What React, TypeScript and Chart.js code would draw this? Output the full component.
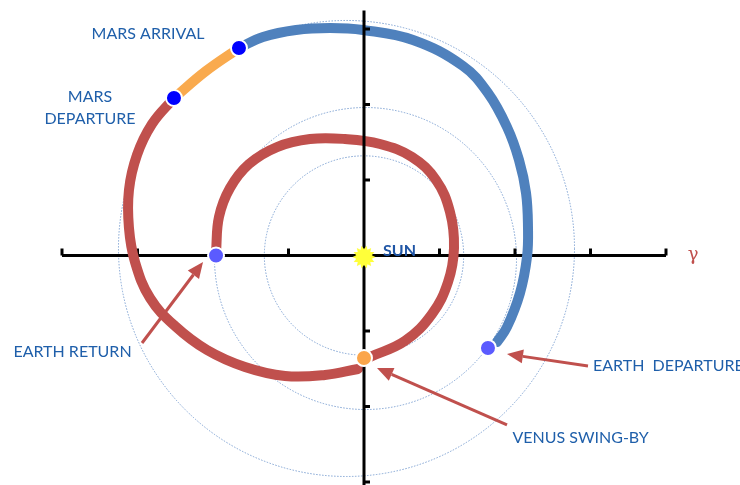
import React, { useEffect, useRef } from "react";
import { Chart, registerables } from "chart.js";

Chart.register(...registerables);

// ---- data (chart units, 1 unit = one axis tick) ----
const blueTransfer = [
  [1.762, -1.146], [1.894, -0.947], [2.066, -0.497], [2.159, -0.02], [2.172, 0.377],
  [2.146, 0.828], [2.053, 1.265], [1.894, 1.702], [1.642, 2.152], [1.311, 2.51],
  [0.649, 2.854], [-0.013, 2.987], [-0.45, 3.013], [-0.901, 2.987], [-1.338, 2.894],
  [-1.656, 2.748],
];
const orangeStay = [
  [-1.656, 2.748], [-2.093, 2.444], [-2.517, 2.086],
];
const redOuter = [
  [-2.517, 2.086], [-2.808, 1.742], [-3.007, 1.331], [-3.113, 0.868], [-3.113, 0.364],
  [-3.033, -0.086], [-2.834, -0.563], [-2.503, -0.934], [-2.079, -1.252], [-1.576, -1.477],
  [-1.046, -1.596], [-0.517, -1.583], [-0.079, -1.503],
];
const redInner = [
  [0.079, -1.344], [0.543, -1.132], [0.901, -0.775], [1.113, -0.351], [1.192, 0.099],
  [1.139, 0.576], [0.954, 1.0], [0.636, 1.305], [0.212, 1.477], [-0.252, 1.543],
  [-0.715, 1.543], [-1.152, 1.437], [-1.523, 1.212], [-1.775, 0.894], [-1.921, 0.51],
  [-1.96, 0.046],
];
const marsPoints = [[-1.656, 2.748], [-2.517, 2.086]];
const earthPoints = [[1.642, -1.225], [-1.96, 0.0]];
const venusPoints = [[0.0, -1.358]];
const sunPoint = [[0.0, -0.02]];

// orbit reference circles: [centerX, centerY], radius
const orbitCenters = [[0.0, 0.0], [0.02, -0.04], [-0.232, 0.093]];
const orbitRadii = [1.32, 2.0, 3.02];

// axes
const axisXRange = [-4, 4];
const axisYRange = [3.245, -3.2];
const xTicks = [-4, -3, -2, -1, 0, 1, 2, 3, 4];
const yTicks = [3, 2, 1, 0, -1, -2, -3];

// arrows: [fromX, fromY, toX, toY]
const arrows = [
  [-2.94, -1.159, -2.132, -0.086],
  [2.967, -1.464, 1.894, -1.305],
  [1.894, -2.245, 0.172, -1.49],
];

// labels
const labelTexts = ["MARS ARRIVAL", "MARS", "DEPARTURE", "EARTH RETURN", "EARTH  DEPARTURE", "VENUS SWING-BY"];
const labelAnchors = [[-2.861, 2.934], [-3.629, 2.099], [-3.629, 1.808], [-3.861, -1.278], [3.033, -1.464], [1.967, -2.417]];
const labelAligns = ["center", "center", "center", "center", "left", "left"];

const toXY = (arr: number[][]) => arr.map(([x, y]) => ({ x, y }));

const RED = "#C0504D";
const BLUE = "#4F81BD";
const ORANGE = "#F9AA4E";
const TEXT_BLUE = "#1F5FAA";

function makeSun(): HTMLCanvasElement {
  const c = document.createElement("canvas");
  c.width = 24;
  c.height = 24;
  const g = c.getContext("2d")!;
  g.beginPath();
  const spikes = 14;
  for (let i = 0; i < spikes * 2; i++) {
    const r = i % 2 === 0 ? 11.5 : 8;
    const a = (Math.PI * i) / spikes;
    const px = 12 + r * Math.cos(a);
    const py = 12 + r * Math.sin(a);
    if (i === 0) g.moveTo(px, py);
    else g.lineTo(px, py);
  }
  g.closePath();
  g.fillStyle = "#FFFF3A";
  g.fill();
  return c;
}

const decorPlugin = {
  id: "decor",
  beforeDatasetsDraw(chart: any) {
    const { ctx, scales } = chart;
    const xs = scales.x, ys = scales.y;
    const ppu = xs.getPixelForValue(1) - xs.getPixelForValue(0);
    ctx.save();
    ctx.strokeStyle = "#7FA2D2";
    ctx.lineWidth = 1;
    ctx.setLineDash([1.5, 1.5]);
    orbitRadii.forEach((r, i) => {
      const [cx, cy] = orbitCenters[i];
      ctx.beginPath();
      ctx.arc(xs.getPixelForValue(cx), ys.getPixelForValue(cy), r * ppu, 0, Math.PI * 2);
      ctx.stroke();
    });
    ctx.setLineDash([]);
    ctx.strokeStyle = "#000";
    ctx.lineWidth = 3;
    const y0 = ys.getPixelForValue(0);
    xTicks.forEach((t) => {
      const px = xs.getPixelForValue(t);
      ctx.beginPath();
      ctx.moveTo(px, y0);
      ctx.lineTo(px, y0 - 7);
      ctx.stroke();
    });
    ctx.restore();
  },
  afterDatasetsDraw(chart: any) {
    const { ctx, scales } = chart;
    const xs = scales.x, ys = scales.y;
    ctx.save();
    ctx.strokeStyle = "#000";
    ctx.lineWidth = 3;
    const x0 = xs.getPixelForValue(0);
    yTicks.forEach((t) => {
      if (t === 0) return;
      const py = ys.getPixelForValue(t);
      ctx.beginPath();
      ctx.moveTo(x0, py);
      ctx.lineTo(x0 + 6, py);
      ctx.stroke();
    });
    ctx.strokeStyle = RED;
    ctx.fillStyle = RED;
    ctx.lineWidth = 3;
    arrows.forEach(([fx, fy, tx, ty]) => {
      const x1 = xs.getPixelForValue(fx), y1 = ys.getPixelForValue(fy);
      const x2 = xs.getPixelForValue(tx), y2 = ys.getPixelForValue(ty);
      const ang = Math.atan2(y2 - y1, x2 - x1);
      const hl = 16, hw = 7;
      const bx = x2 - hl * Math.cos(ang), by = y2 - hl * Math.sin(ang);
      ctx.beginPath();
      ctx.moveTo(x1, y1);
      ctx.lineTo(bx, by);
      ctx.stroke();
      ctx.beginPath();
      ctx.moveTo(x2, y2);
      ctx.lineTo(bx + hw * Math.sin(ang), by - hw * Math.cos(ang));
      ctx.lineTo(bx - hw * Math.sin(ang), by + hw * Math.cos(ang));
      ctx.closePath();
      ctx.fill();
    });
    ctx.textBaseline = "middle";
    ctx.fillStyle = TEXT_BLUE;
    ctx.font = "16px Lato, 'Open Sans', sans-serif";
    labelTexts.forEach((t, i) => {
      const [lx, ly] = labelAnchors[i];
      ctx.textAlign = labelAligns[i] as CanvasTextAlign;
      ctx.fillText(t, xs.getPixelForValue(lx), ys.getPixelForValue(ly));
    });
    ctx.font = "bold 16px Lato, 'Open Sans', sans-serif";
    ctx.fillStyle = "#1F55A5";
    ctx.textAlign = "left";
    ctx.fillText("SUN", xs.getPixelForValue(0.252), ys.getPixelForValue(0.06));
    ctx.font = "18px 'DejaVu Serif', serif";
    ctx.fillStyle = RED;
    ctx.textAlign = "center";
    ctx.fillText("γ", xs.getPixelForValue(4.358), ys.getPixelForValue(0.0));
    ctx.restore();
  },
};

export default function App() {
  const ref = useRef<HTMLCanvasElement>(null);
  useEffect(() => {
    if (!ref.current) return;
    const sun = makeSun();
    const line = (data: number[][], color: string, order: number) => ({
      data: toXY(data),
      showLine: true,
      borderColor: color,
      backgroundColor: color,
      borderWidth: 10,
      borderCapStyle: "round" as const,
      pointRadius: 0,
      tension: 0.4,
      order,
    });
    const pts = (data: number[][], color: string, order: number) => ({
      data: toXY(data),
      showLine: false,
      pointRadius: 8,
      pointBackgroundColor: color,
      pointBorderColor: "#FFFFFF",
      pointBorderWidth: 2,
      order,
    });
    const chart = new Chart(ref.current, {
      type: "scatter",
      data: {
        datasets: [
          {
            data: toXY(sunPoint),
            pointStyle: sun as any,
            pointRadius: 12,
            order: 0,
          },
          pts(marsPoints, "#0000FF", 1),
          pts(earthPoints, "#5B5BFF", 1),
          pts(venusPoints, "#FBA54A", 1),
          {
            data: [{ x: 0, y: axisYRange[0] }, { x: 0, y: axisYRange[1] }],
            showLine: true,
            borderColor: "#000",
            borderWidth: 3,
            pointRadius: 0,
            order: 2,
          },
          line(blueTransfer, BLUE, 3),
          line(orangeStay, ORANGE, 3),
          line(redOuter, RED, 3),
          line(redInner, RED, 3),
          {
            data: [{ x: axisXRange[0], y: 0 }, { x: axisXRange[1], y: 0 }],
            showLine: true,
            borderColor: "#000",
            borderWidth: 3,
            pointRadius: 0,
            order: 4,
          },
        ],
      },
      options: {
        animation: false,
        responsive: false,
        events: [],
        layout: { padding: 0, autoPadding: false },
        plugins: { legend: { display: false }, tooltip: { enabled: false } },
        scales: {
          x: { type: "linear", display: false, min: -364 / 75.5, max: (740 - 364) / 75.5 },
          y: { type: "linear", display: false, min: -(485 - 255.5) / 75.5, max: 255.5 / 75.5 },
        },
      },
      plugins: [decorPlugin],
    });
    return () => chart.destroy();
  }, []);
  return (
    <div style={{ position: "absolute", left: 0, top: 0, width: 740, height: 485, background: "#fff" }}>
      <canvas ref={ref} width={740} height={485} />
    </div>
  );
}
